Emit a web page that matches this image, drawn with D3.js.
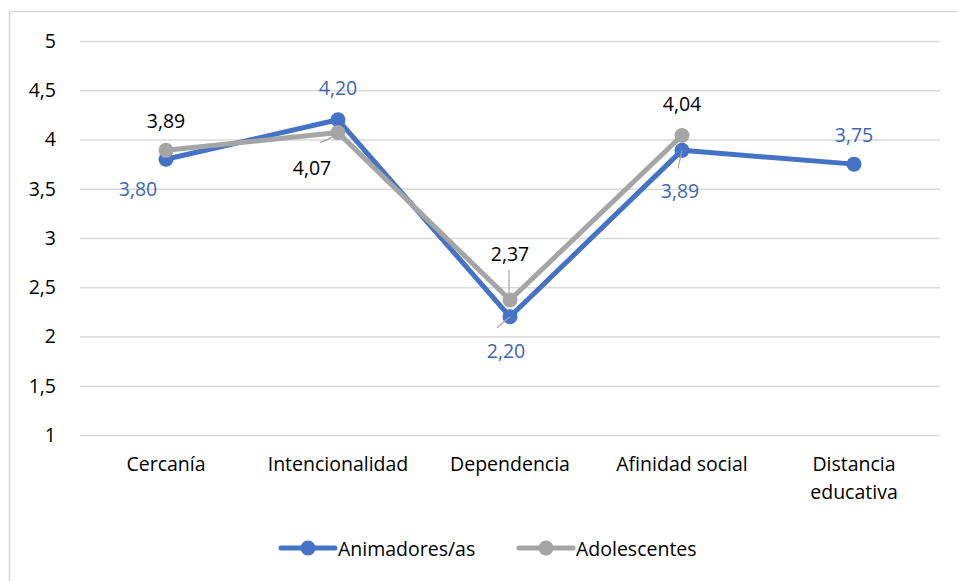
<!DOCTYPE html>
<html>
<head>
<meta charset="utf-8">
<script src="https://cdn.jsdelivr.net/npm/d3@7"></script>
<style>
  body { margin: 0; background: #fff; }
  text { font-family: "Open Sans", sans-serif; }
</style>
</head>
<body>
<div id="chart"></div>
<script>
// data
var categories      = [ "Cercanía", "Intencionalidad", "Dependencia", "Afinidad social", "Distancia educativa" ];
var animadores      = [ 3.80, 4.20, 2.20, 3.89, 3.75 ];
var adolescentes    = [ 3.89, 4.07, 2.37, 4.04, null ];
var y_ticks         = [ 1, 1.5, 2, 2.5, 3, 3.5, 4, 4.5, 5 ];
var series_names    = [ "Animadores/as", "Adolescentes" ];

// label placement: [dx, dy] offsets from the point, and leader lines
var anim_labels     = [ [-28, 29], [0, -32], [-4, 34], [-2, 40], [0, -30] ];
var adol_labels     = [ [0, -30], [-26, 35], [0, -47], [0, -32], null ];
var anim_leaders    = [ null, null, [[-13, 11], [0, 0]], [[-4, 18], [0, 0]], null ];
var adol_leaders    = [ null, [[-18, 10], [0, 2]], [[-1, -30], [-1, -5]], null, null ];

// --------------------------------------------------------
var chart_width     = 957;
var chart_height    = 581;
var font_size       = 19.5;
var blue            = "#4472C4";
var gray            = "#A5A5A5";

var svg = d3.select("#chart")
	.append("svg")
	.attr("width", chart_width)
	.attr("height", chart_height);

// outer frame (only left and top visible)
svg.append("rect")
	.attr("x", 9.5).attr("y", 11.5)
	.attr("width", 1000).attr("height", 1000)
	.attr("fill", "none")
	.attr("stroke", "#D9D9D9")
	.attr("stroke-width", 1.5);

// --------------------------------------------------------
// scales
var x_scale = d3.scaleBand()
	.domain(categories)
	.range([80, 940]);

var y_scale = d3.scaleLinear()
	.domain([1, 5])
	.range([435, 41]);

var fmt = function(v) { return v.toFixed(2).replace(".", ","); };
var cx  = function(i) { return x_scale(categories[i]) + x_scale.bandwidth() / 2; };

// gridlines + y axis
var y_axis = d3.axisLeft(y_scale)
	.tickValues(y_ticks)
	.tickSize(-(940 - 80))
	.tickPadding(24)
	.tickFormat(function(d) { return String(d).replace(".", ","); });

svg.append("g")
	.attr("class", "y-axis")
	.attr("transform", "translate(80,0)")
	.call(y_axis)
	.call(function(g) {
		g.select(".domain").remove();
		g.selectAll(".tick line").attr("stroke", "#D9D9D9").attr("stroke-width", 1.5);
		g.selectAll(".tick text").attr("fill", "#000").attr("font-size", font_size).attr("font-family", "Open Sans");
	});

// x axis labels
var x_axis = d3.axisBottom(x_scale).tickSize(0).tickPadding(22);
svg.append("g")
	.attr("class", "x-axis")
	.attr("transform", "translate(0,435)")
	.call(x_axis)
	.call(function(g) {
		g.select(".domain").remove();
		g.selectAll(".tick text")
			.attr("fill", "#000")
			.attr("font-size", font_size)
			.attr("font-family", "Open Sans")
			.each(function(d) {
				if (d === "Distancia educativa") {
					var t = d3.select(this).text(null);
					t.append("tspan").attr("x", 0).attr("dy", "0.71em").text("Distancia");
					t.append("tspan").attr("x", 0).attr("dy", "1.45em").text("educativa");
					t.attr("dy", null);
				}
			});
	});

// --------------------------------------------------------
// lines
function drawSeries(values, color) {
	var line = d3.line()
		.defined(function(d) { return d != null; })
		.x(function(d, i) { return cx(i); })
		.y(function(d) { return y_scale(d); });

	svg.append("path")
		.datum(values)
		.attr("d", line)
		.attr("fill", "none")
		.attr("stroke", color)
		.attr("stroke-width", 5)
		.attr("stroke-linejoin", "round")
		.attr("stroke-linecap", "round");

	svg.append("g").selectAll("circle")
		.data(values.map(function(v, i) { return { v: v, i: i }; }).filter(function(d) { return d.v != null; }))
		.enter()
		.append("circle")
		.attr("cx", function(d) { return cx(d.i); })
		.attr("cy", function(d) { return y_scale(d.v); })
		.attr("r", 7.5)
		.attr("fill", color);
}

drawSeries(animadores, blue);
drawSeries(adolescentes, gray);

// leader lines
function drawLeaders(values, leaders) {
	leaders.forEach(function(l, i) {
		if (!l || values[i] == null) return;
		var px = cx(i), py = y_scale(values[i]);
		svg.append("line")
			.attr("x1", px + l[0][0]).attr("y1", py + l[0][1])
			.attr("x2", px + l[1][0]).attr("y2", py + l[1][1])
			.attr("stroke", "#A5A5A5")
			.attr("stroke-width", 1.2);
	});
}
drawLeaders(animadores, anim_leaders);
drawLeaders(adolescentes, adol_leaders);

// data labels
function drawLabels(values, offsets, color) {
	values.forEach(function(v, i) {
		if (v == null || !offsets[i]) return;
		svg.append("text")
			.attr("x", cx(i) + offsets[i][0])
			.attr("y", y_scale(v) + offsets[i][1])
			.attr("text-anchor", "middle")
			.attr("dominant-baseline", "central")
			.attr("font-size", font_size)
			.attr("fill", color)
			.text(fmt(v));
	});
}
drawLabels(animadores, anim_labels, "#3B67B5");
drawLabels(adolescentes, adol_labels, "#000");

// --------------------------------------------------------
// legend
var legend = svg.append("g").attr("transform", "translate(0,548)");
var legend_items = [
	{ name: series_names[0], color: blue, x: 281 },
	{ name: series_names[1], color: gray, x: 519 }
];
legend_items.forEach(function(d) {
	legend.append("line")
		.attr("x1", d.x).attr("x2", d.x + 54)
		.attr("y1", 0).attr("y2", 0)
		.attr("stroke", d.color)
		.attr("stroke-width", 5)
		.attr("stroke-linecap", "round");
	legend.append("circle")
		.attr("cx", d.x + 27).attr("cy", 0)
		.attr("r", 7.5)
		.attr("fill", d.color);
	legend.append("text")
		.attr("x", d.x + 57)
		.attr("y", 0)
		.attr("dominant-baseline", "central")
		.attr("font-size", font_size)
		.attr("fill", "#000")
		.text(d.name);
});
</script>
</body>
</html>
